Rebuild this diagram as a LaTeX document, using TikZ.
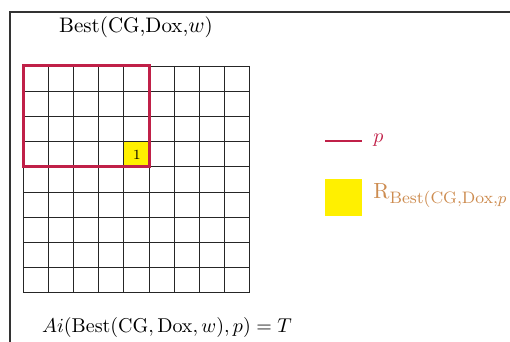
\documentclass[tikz,border=0pt]{standalone}
\usepackage{amsmath}
\definecolor{pred}{RGB}{192,32,72}
\definecolor{porange}{RGB}{205,140,80}
\definecolor{pyellow}{RGB}{255,240,0}
\tikzset{
  gridline/.style={line width=0.45pt, black!85},
  redbox/.style={pred, line width=1.5pt},
  frameline/.style={line width=0.6pt, black!80},
}
\begin{document}
\begin{tikzpicture}[x=0.5pt,y=-0.5pt]
\useasboundingbox (0,0) rectangle (510,342);
\clip (0,0) rectangle (510,342);
% frame
\draw[frameline] (10,360) -- (10,12) -- (530,12);
% yellow cell
\node[fill=pyellow, minimum size=12.6pt, inner sep=0pt, anchor=north west, font=\scriptsize] (cell) at (23+4*25.2,66+3*25.2) {1};
% grid
\foreach \i in {0,...,9} {
  \draw[gridline] (23+25.2*\i,66) -- (23+25.2*\i,66+9*25.2);
  \draw[gridline] (23,66+25.2*\i) -- (23+9*25.2,66+25.2*\i);
}
% red box
\draw[redbox] (23,66) rectangle (23+5*25.2,66+4*25.2);
% title
\node[font=\fontsize{10.5}{12}\selectfont] (title) at (136,27) {Best(CG,Dox,$w$)};
% formula
\node (formula) at (167,328) {$Ai(\mathrm{Best}(\mathrm{CG},\mathrm{Dox},w),p)=T$};
% legend
\coordinate (la) at (325,141);
\coordinate (lb) at (362,141);
\draw[pred, line width=1pt] (la) -- (lb);
\node[anchor=west, text=pred, inner sep=0pt] (lp) at (373,140) {$p$};
\node[fill=pyellow, minimum size=18.5pt, inner sep=0pt] (ysq) at (343.5,197.5) {};
\node[anchor=west, text=porange, inner sep=0pt, font=\fontsize{10.5}{12}\selectfont] (lr) at (373,196) {$\mathrm{R}_{\text{\fontsize{8.3}{10}\selectfont Best(CG,Dox,$p$}}$};
\end{tikzpicture}
\end{document}
